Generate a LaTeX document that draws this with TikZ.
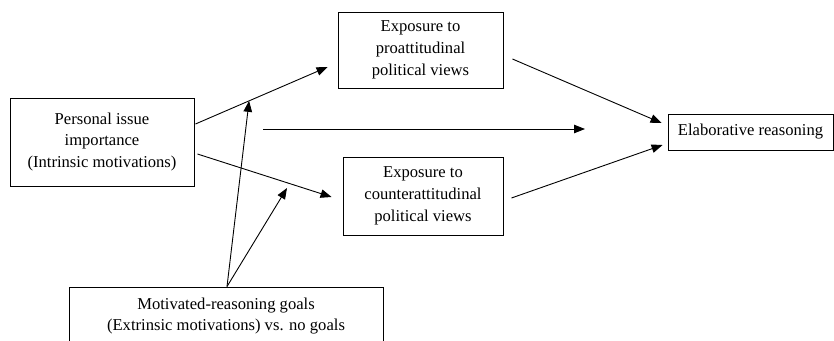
\documentclass[tikz,border=0pt]{standalone}
\usepackage{fontspec}
\setmainfont{Liberation Serif}
\usetikzlibrary{arrows.meta,calc}
\begin{document}
\begin{tikzpicture}[x=1pt,y=-1pt,
  box/.style={draw,line width=0.9pt,align=center,inner sep=0pt,
    font=\fontsize{16.6}{21.7}\selectfont},
  conn/.style={line width=0.9pt,-{Triangle[length=11pt,width=8.5pt]}},
  plain/.style={line width=0.9pt}]
\useasboundingbox (0,0) rectangle (834,340);
\begin{scope}
\clip (0,0) rectangle (834,340);
\node[box,minimum width=184pt,minimum height=88pt] (personal) at (102,142)
  {Personal issue\\importance\\(Intrinsic motivations)};
\node[box,minimum width=165pt,minimum height=76pt] (pro) at (420.5,50)
  {Exposure to\\proattitudinal\\political views};
\node[box,minimum width=160pt,minimum height=78pt] (counter) at (423,196)
  {Exposure to\\counterattitudinal\\political views};
\node[box,minimum width=165pt,minimum height=36pt] (elab) at (750.5,132)
  {Elaborative reasoning};
\node[box,minimum width=314pt,minimum height=58pt] (motiv) at (226,316)
  {Motivated-reasoning goals\\(Extrinsic motivations) vs. no goals};
\end{scope}
\draw[conn] ($(personal.east)+(1,-18)$) -- coordinate[pos=0.406] (m1) ($(pro.west)+(-10,17)$);
\draw[conn] ($(personal.east)+(3,12)$) -- ($(counter.west)+(-11,1)$);
\coordinate (hs) at (263,129);
\coordinate (he) at (585,129);
\draw[conn] (hs) -- (he);
\draw[conn] ($(pro.east)+(9,9)$) -- ($(elab.west)+(-6,-9)$);
\draw[conn] ($(counter.east)+(8,2)$) -- ($(elab.west)+(-5,13)$);
\coordinate (m2) at (287,188);
\draw[conn] ($(motiv.north)+(1,0)$) -- (m1);
\draw[conn] ($(motiv.north)+(1,0)$) -- (m2);
\end{tikzpicture}
\end{document}
